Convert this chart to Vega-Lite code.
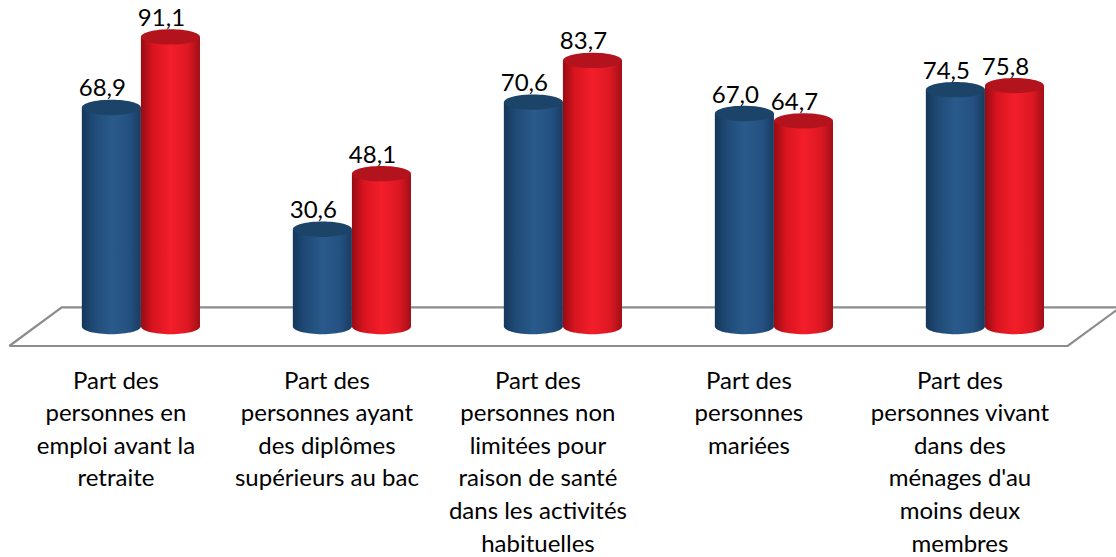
{
  "$schema": "https://vega.github.io/schema/vega-lite/v6.json",
  "width": 1116,
  "height": 360,
  "padding": 0,
  "autosize": {"type": "pad"},
  "background": "white",
  "config": {
    "view": {"stroke": null},
    "locale": {"number": {"decimal": ",", "thousands": " ", "grouping": [3], "currency": ["", " €"]}},
    "font": "Lato"
  },
  "datasets": {
    "bars": [
      {"cat": "Part des|personnes en|emploi avant la|retraite", "serie": "Série 1", "v": 68.9},
      {"cat": "Part des|personnes en|emploi avant la|retraite", "serie": "Série 2", "v": 91.1},
      {"cat": "Part des|personnes ayant|des diplômes|supérieurs au bac", "serie": "Série 1", "v": 30.6},
      {"cat": "Part des|personnes ayant|des diplômes|supérieurs au bac", "serie": "Série 2", "v": 48.1},
      {"cat": "Part des|personnes non|limitées pour|raison de santé|dans les activités|habituelles", "serie": "Série 1", "v": 70.6},
      {"cat": "Part des|personnes non|limitées pour|raison de santé|dans les activités|habituelles", "serie": "Série 2", "v": 83.7},
      {"cat": "Part des|personnes|mariées", "serie": "Série 1", "v": 67.0},
      {"cat": "Part des|personnes|mariées", "serie": "Série 2", "v": 64.7},
      {"cat": "Part des|personnes vivant|dans des|ménages d'au|moins deux|membres", "serie": "Série 1", "v": 74.5},
      {"cat": "Part des|personnes vivant|dans des|ménages d'au|moins deux|membres", "serie": "Série 2", "v": 75.8}
    ],
    "floor": [
      {"k": 0, "fx": 0.0083, "fy": -6.1},
      {"k": 1, "fx": 0.0553, "fy": 6.07},
      {"k": 2, "fx": 1.0039, "fy": 6.07},
      {"k": 3, "fx": 0.9567, "fy": -6.1},
      {"k": 4, "fx": 0.0083, "fy": -6.1}
    ]
  },
  "resolve": {"scale": {"x": "independent"}},
  "layer": [
    {
      "data": {"name": "floor"},
      "mark": {"type": "line", "stroke": "#8c8c8c", "strokeWidth": 2.2, "strokeJoin": "miter", "clip": true},
      "encoding": {
        "x": {"field": "fx", "type": "quantitative", "scale": {"domain": [0, 1], "nice": false, "zero": false}, "axis": null},
        "y": {"field": "fy", "type": "quantitative", "scale": {"domain": [-10.5, 102.7], "nice": false, "zero": false}, "axis": null},
        "order": {"field": "k", "type": "quantitative"}
      }
    },
    {
      "data": {"name": "bars"},
      "encoding": {
        "x": {
          "field": "cat", "type": "nominal", "sort": null,
          "scale": {"type": "band", "paddingInner": 0.44, "paddingOuter": 0.3645, "align": 0.532},
          "axis": {
            "title": null, "domain": false, "ticks": false, "labelAngle": 0,
            "labelExpr": "split(datum.label, '|')",
            "labelFontSize": 24, "labelFont": "Lato", "labelColor": "#000000",
            "labelLineHeight": 32.6, "labelPadding": 9, "labelLimit": 0, "labelBaseline": "top",
            "labelOffset": -25
          }
        },
        "xOffset": {"field": "serie", "type": "nominal", "scale": {"paddingInner": 0, "paddingOuter": 0}},
        "y": {"field": "v", "type": "quantitative", "scale": {"domain": [-10.5, 102.7], "nice": false, "zero": false}, "axis": null}
      },
      "layer": [
        {
          "mark": {"type": "bar"},
          "encoding": {
            "y2": {"datum": 0},
            "color": {
              "condition": {"test": "datum.serie === 'Série 1'", "value": {"gradient": "linear", "x1": 0, "x2": 1, "y1": 0, "y2": 0, "stops": [
                {"offset": 0, "color": "#15375a"}, {"offset": 0.2, "color": "#1f4a76"}, {"offset": 0.5, "color": "#295a8b"}, {"offset": 0.8, "color": "#245182"}, {"offset": 1, "color": "#193c61"}]}},
              "value": {"gradient": "linear", "x1": 0, "x2": 1, "y1": 0, "y2": 0, "stops": [
                {"offset": 0, "color": "#960c14"}, {"offset": 0.2, "color": "#d8141f"}, {"offset": 0.5, "color": "#f31e2a"}, {"offset": 0.8, "color": "#dc1823"}, {"offset": 1, "color": "#a20e17"}]}
            }
          }
        },
        {
          "mark": {"type": "point", "shape": "M-1,0A1,0.26,0,1,0,1,0A1,0.26,0,1,0,-1,0Z", "size": 3481, "filled": true, "opacity": 1, "strokeWidth": 0},
          "encoding": {
            "y": {"datum": 0},
            "color": {
              "condition": {"test": "datum.serie === 'Série 1'", "value": {"gradient": "linear", "x1": 0, "x2": 1, "y1": 0, "y2": 0, "stops": [
                {"offset": 0, "color": "#15375a"}, {"offset": 0.2, "color": "#1f4a76"}, {"offset": 0.5, "color": "#295a8b"}, {"offset": 0.8, "color": "#245182"}, {"offset": 1, "color": "#193c61"}]}},
              "value": {"gradient": "linear", "x1": 0, "x2": 1, "y1": 0, "y2": 0, "stops": [
                {"offset": 0, "color": "#960c14"}, {"offset": 0.2, "color": "#d8141f"}, {"offset": 0.5, "color": "#f31e2a"}, {"offset": 0.8, "color": "#dc1823"}, {"offset": 1, "color": "#a20e17"}]}
            }
          }
        },
        {
          "mark": {"type": "point", "shape": "M-1,0A1,0.26,0,1,0,1,0A1,0.26,0,1,0,-1,0Z", "size": 3481, "filled": true, "opacity": 1, "strokeWidth": 0},
          "encoding": {
            "color": {
              "condition": {"test": "datum.serie === 'Série 1'", "value": "#1c4469"},
              "value": "#b3131c"
            }
          }
        },
        {
          "mark": {"type": "text", "dy": -11, "dx": -9, "baseline": "alphabetic", "fontSize": 24, "font": "Lato", "color": "#000000"},
          "encoding": {
            "text": {"field": "v", "type": "quantitative", "format": ".1f"}
          }
        }
      ]
    }
  ]
}
